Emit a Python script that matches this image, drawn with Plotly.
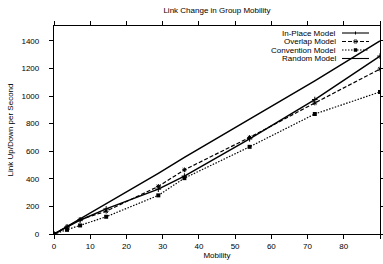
import plotly.graph_objects as go

mobility = [0, 3.6, 7.2, 14.4, 28.8, 36, 54, 72, 90]
in_place = [0, 50, 100, 182, 325, 420, 690, 975, 1290]
overlap = [0, 52, 105, 165, 345, 465, 700, 950, 1196]
convention = [0, 30, 62, 125, 280, 405, 632, 870, 1030]
random_model = [0, 55, 110, 215, 440, 555, 830, 1110, 1400]

names = ["In-Place Model", "Overlap Model", "Convention Model", "Random Model"]
x_ticks = [0, 10, 20, 30, 40, 50, 60, 70, 80, 90]
y_ticks = [0, 200, 400, 600, 800, 1000, 1200, 1400]

FONT = "Liberation Sans, Arial, sans-serif"
W, H = 383, 264
ML, MR, MT, MB = 54, 3, 26, 30
PW, PH = W - ML - MR, H - MT - MB

fig = go.Figure()
fig.add_trace(go.Scatter(x=mobility, y=in_place, mode="lines+markers", name=names[0],
                         line=dict(color="black", width=1.5),
                         marker=dict(symbol="cross-thin", size=4, line=dict(color="black", width=1))))
fig.add_trace(go.Scatter(x=mobility, y=overlap, mode="lines+markers", name=names[1],
                         line=dict(color="black", width=1.2, dash="4px,2px"),
                         marker=dict(symbol="asterisk-open", size=4, line=dict(color="black", width=1))))
fig.add_trace(go.Scatter(x=mobility, y=convention, mode="lines+markers", name=names[2],
                         line=dict(color="black", width=1.2, dash="1.5px,1.5px"),
                         marker=dict(symbol="square", size=4, color="black")))
fig.add_trace(go.Scatter(x=mobility, y=random_model, mode="lines", name=names[3],
                         line=dict(color="black", width=1.5)))

# gnuplot-style legend (text then sample), top right
def px_x(p):
    return (p - ML) / PW

def px_y(p):
    return (MT + PH - p) / PH

rows = [33, 41.5, 50, 58.5]
dashes = ["solid", "4px,2px", "1.5px,1.5px", "solid"]
anns = []
shapes = []
for name, ry, d in zip(names, rows, dashes):
    anns.append(dict(x=px_x(338), y=px_y(ry), xref="paper", yref="paper", text=name,
                     showarrow=False, xanchor="right", yanchor="middle",
                     font=dict(family=FONT, size=8, color="black")))
    shapes.append(dict(type="line", xref="paper", yref="paper",
                       x0=px_x(342), x1=px_x(369), y0=px_y(ry), y1=px_y(ry),
                       line=dict(color="black", width=1.1, dash=d)))
shapes.append(dict(type="line", xref="paper", yref="paper", x0=px_x(355.5), x1=px_x(355.5),
                   y0=px_y(rows[0] - 1.5), y1=px_y(rows[0] + 1.5), line=dict(color="black", width=1)))
shapes.append(dict(type="rect", xref="paper", yref="paper", x0=px_x(354), x1=px_x(357),
                   y0=px_y(rows[1] - 1.5), y1=px_y(rows[1] + 1.5), line=dict(color="black", width=0.8)))
shapes.append(dict(type="rect", xref="paper", yref="paper", x0=px_x(354), x1=px_x(357),
                   y0=px_y(rows[2] - 1.5), y1=px_y(rows[2] + 1.5), fillcolor="black",
                   line=dict(color="black", width=0.5)))

fig.update_layout(
    width=W, height=H,
    margin=dict(l=ML, r=MR, t=MT, b=MB, autoexpand=False),
    paper_bgcolor="white", plot_bgcolor="white",
    showlegend=False,
    font=dict(family=FONT, size=8, color="black"),
    title=dict(text="Link Change in Group Mobility", x=0.5, xref="paper",
               y=1 - 10 / H, yref="container", yanchor="middle", xanchor="center",
               font=dict(family=FONT, size=8, color="black")),
    annotations=anns,
    shapes=shapes,
)
fig.update_xaxes(range=[0, 90], tickvals=x_ticks, ticks="outside", ticklen=4,
                 tickwidth=1, tickcolor="black", showline=True, linecolor="black",
                 linewidth=1.3, mirror="ticks", showgrid=False, zeroline=False,
                 automargin=False,
                 title=dict(text="Mobility", standoff=2, font=dict(family=FONT, size=8)),
                 tickfont=dict(family=FONT, size=8))
fig.update_yaxes(range=[0, 1508], tickvals=y_ticks, ticks="outside", ticklen=4,
                 tickwidth=1, tickcolor="black", showline=True, linecolor="black",
                 linewidth=1.3, mirror="ticks", showgrid=False, zeroline=False,
                 automargin=False, ticklabelstandoff=8,
                 title=dict(text="Link Up/Down per Second", standoff=6, font=dict(family=FONT, size=8)),
                 tickfont=dict(family=FONT, size=8))

fig.write_html("out.html", config={"displayModeBar": False},
               post_script="document.body.style.margin='0';document.body.style.padding='0';")
